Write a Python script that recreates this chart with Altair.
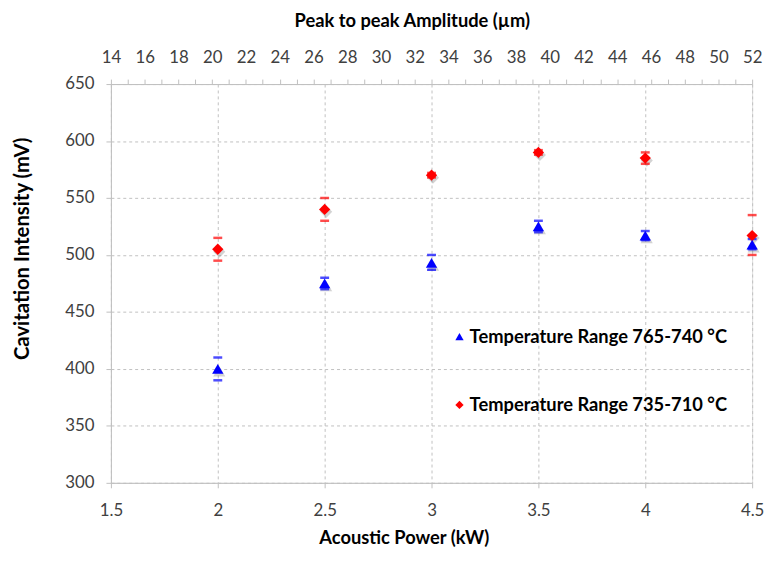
import altair as alt
import pandas as pd

# ---- data ----
power = [2.0, 2.5, 3.0, 3.5, 4.0, 4.5]
series_names = ["Temperature Range 765-740 °C", "Temperature Range 735-710 °C"]
blue_val = [400, 475, 493, 525, 517, 509]
blue_lo = [390, 470, 487, 520, 513, 505]
blue_hi = [410, 480, 500, 530, 521, 514]
red_val = [505, 540, 570, 590, 585, 517]
red_lo = [495, 530, 568, 588, 580, 500]
red_hi = [515, 550, 572, 592, 590, 535]
x_ticks = [1.5, 2.0, 2.5, 3.0, 3.5, 4.0, 4.5]
y_ticks = [300, 350, 400, 450, 500, 550, 600, 650]
amp_domain = [14, 52]
amp_ticks = list(range(14, 53))

rows = []
for i, p in enumerate(power):
    rows.append(dict(power=p, val=red_val[i], lo=red_lo[i], hi=red_hi[i], series=series_names[1]))
for i, p in enumerate(power):
    rows.append(dict(power=p, val=blue_val[i], lo=blue_lo[i], hi=blue_hi[i], series=series_names[0]))
df = pd.DataFrame(rows)
amp_df = pd.DataFrame({"amp": amp_domain})

FONT = "Lato"
LABEL_COLOR = "#404040"
AXIS_COLOR = "#BFBFBF"
GRID_COLOR = "#C0C0C0"

xscale = alt.Scale(domain=[1.5, 4.5], nice=False, zero=False)
yscale = alt.Scale(domain=[300, 650], nice=False, zero=False)
color_scale = alt.Scale(domain=series_names, range=["#0000FF", "#FF0000"])
shape_scale = alt.Scale(domain=series_names, range=["triangle-up", "diamond"])

legend = alt.Legend(
    title=None, orient="none", legendX=343, legendY=246,
    labelFont=FONT, labelFontSize=18.5, labelFontWeight="bold", labelColor="#000000",
    symbolSize=70, symbolStrokeWidth=0, symbolOpacity=1, rowPadding=50, labelOffset=1,
    padding=0, labelLimit=400,
)

x_axis = alt.Axis(
    values=x_ticks, format="~g", grid=True, gridDash=[3, 3], gridColor=GRID_COLOR,
    domainColor=AXIS_COLOR, tickColor=AXIS_COLOR, tickSize=5, labelFlush=False,
    labelOverlap=False, labelFont=FONT, labelFontSize=17, labelColor=LABEL_COLOR,
    labelPadding=15, title="Acoustic Power (kW)", titleFont=FONT, titleFontSize=18.5,
    titleFontWeight="bold", titleColor="#000000", titleX=296, titleY=55,
    titleAlign="center", titleBaseline="middle",
)
y_axis = alt.Axis(
    values=y_ticks, grid=True, gridDash=[3, 3], gridColor=GRID_COLOR,
    domainColor=AXIS_COLOR, tickColor=AXIS_COLOR, tickSize=5, labelFlush=False,
    labelOverlap=False, labelFont=FONT, labelFontSize=17, labelColor=LABEL_COLOR,
    labelPadding=12, title="Cavitation Intensity (mV)", titleFont=FONT, titleFontSize=20.5,
    titleFontWeight="bold", titleColor="#000000", titleX=-89, titleY=166,
    titleAlign="center", titleBaseline="middle", titleAngle=270,
)
top_axis = alt.Axis(
    orient="top", values=amp_ticks, grid=False,
    labelExpr="datum.value % 2 == 0 ? datum.label : ''",
    domainColor=AXIS_COLOR, tickColor=AXIS_COLOR, tickSize=5, labelFlush=False,
    labelOverlap=False, labelFont=FONT, labelFontSize=17, labelColor=LABEL_COLOR,
    labelPadding=13, title="Peak to peak Amplitude (µm)", titleFont=FONT, titleFontSize=18.5,
    titleFontWeight="bold", titleColor="#000000", titleX=304, titleY=-64,
    titleAlign="center", titleBaseline="middle",
)

base = alt.Chart(df)

shadow = base.mark_point(filled=True, opacity=0.28, xOffset=1.5, yOffset=2.5, size=150).encode(
    x=alt.X("power:Q", scale=xscale, axis=x_axis),
    y=alt.Y("val:Q", scale=yscale, axis=y_axis),
    color=alt.value("#606060"),
    shape=alt.Shape("series:N", scale=shape_scale, legend=legend),
)

caps_lo = base.mark_tick(orient="horizontal", size=9, thickness=2.5).encode(
    x=alt.X("power:Q", scale=xscale, axis=x_axis),
    y=alt.Y("lo:Q", scale=yscale, axis=y_axis),
    color=alt.Color("series:N", scale=color_scale, legend=legend),
)
caps_hi = base.mark_tick(orient="horizontal", size=9, thickness=2.5).encode(
    x=alt.X("power:Q", scale=xscale, axis=x_axis),
    y=alt.Y("hi:Q", scale=yscale, axis=y_axis),
    color=alt.Color("series:N", scale=color_scale, legend=legend),
)

points = base.mark_point(filled=True, opacity=1, size=130).encode(
    x=alt.X("power:Q", scale=xscale, axis=x_axis),
    y=alt.Y("val:Q", scale=yscale, axis=y_axis),
    color=alt.Color("series:N", scale=color_scale, legend=legend),
    shape=alt.Shape("series:N", scale=shape_scale, legend=legend),
)

main = alt.layer(shadow, caps_lo, caps_hi, points)

top = alt.Chart(amp_df).mark_point(opacity=0).encode(
    x=alt.X("amp:Q", scale=alt.Scale(domain=amp_domain, nice=False, zero=False), axis=top_axis),
)

chart = alt.layer(main, top).resolve_scale(x="independent").properties(
    width=648, height=403,
    autosize=alt.AutoSizeParams(type="none"),
    padding={"left": 104, "top": 74, "right": 13, "bottom": 64},
).configure_view(stroke=None).configure(font=FONT)

chart.save("out.html", embed_options={"renderer": "svg", "actions": False})
